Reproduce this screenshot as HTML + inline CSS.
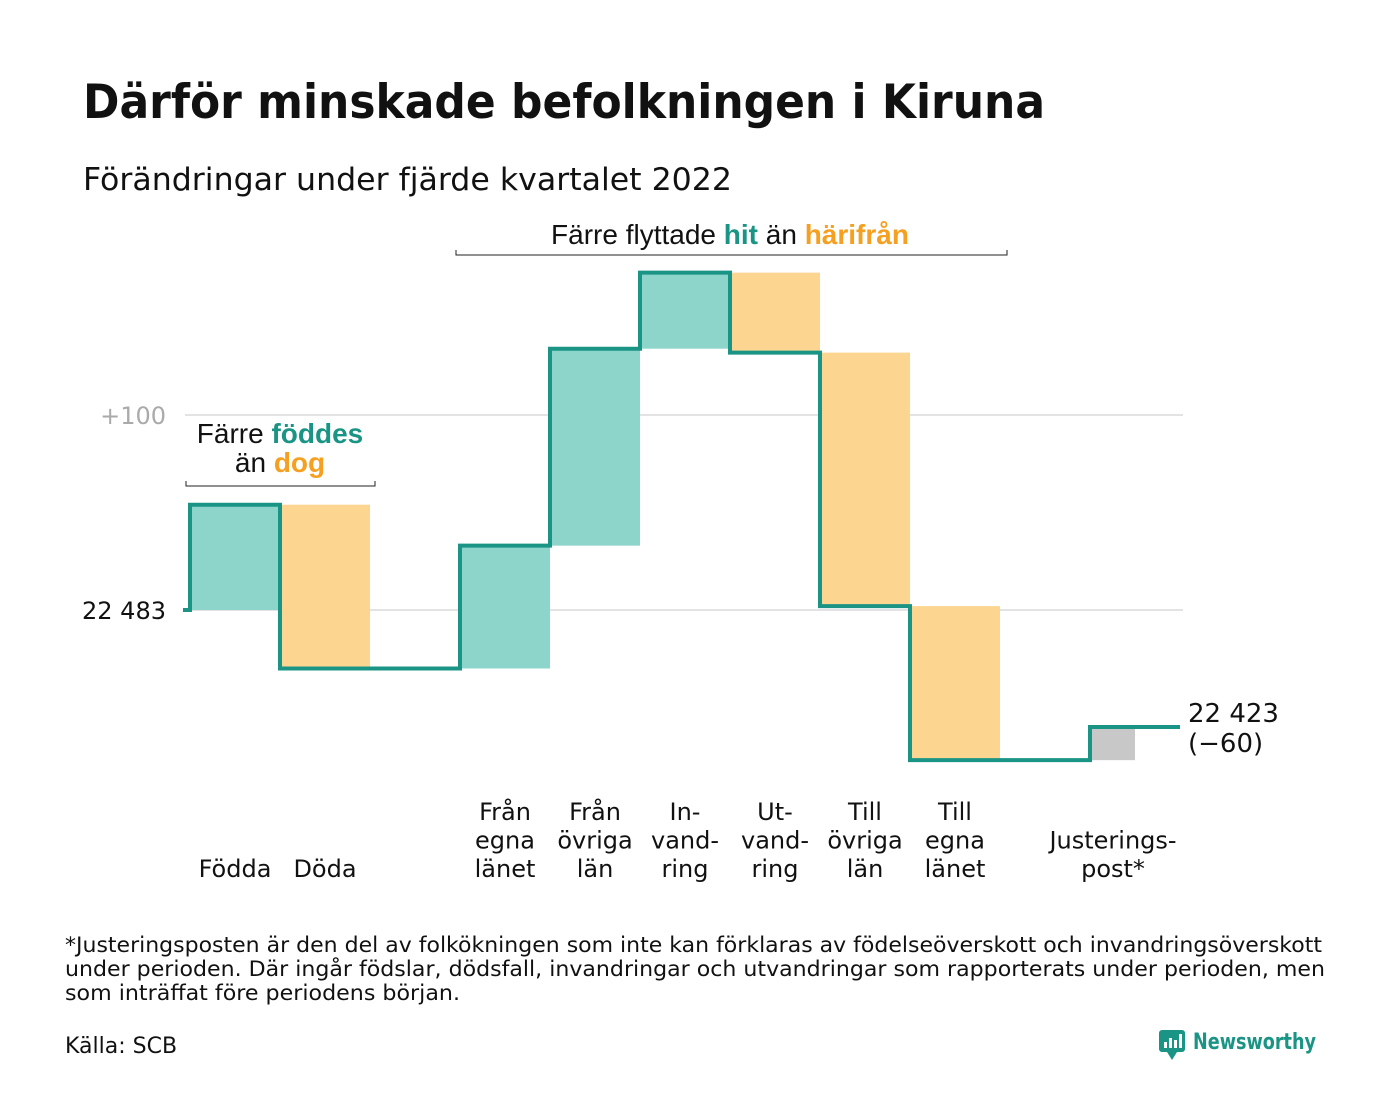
<!DOCTYPE html>
<html><head><meta charset="utf-8"><style>
html,body{margin:0;padding:0;background:#fff;width:1400px;height:1120px;overflow:hidden}
svg{display:block}
text{font-family:"DejaVu Sans","Liberation Sans",sans-serif}
</style></head><body>
<svg id="chart" width="1400" height="1120" viewBox="0 0 1400 1120">
<text x="83" y="118" font-size="47" font-weight="bold" fill="#111" textLength="962" lengthAdjust="spacingAndGlyphs">Därför minskade befolkningen i Kiruna</text>
<text x="83" y="190" font-size="31" fill="#111" textLength="649" lengthAdjust="spacingAndGlyphs">Förändringar under fjärde kvartalet 2022</text>
<g id="grid"></g>
<g id="bars"></g>
<g id="labels"></g>
<g>
<text x="730" y="244" text-anchor="middle" font-size="28" fill="#111" style="font-family:'Liberation Sans',sans-serif">Färre flyttade <tspan fill="#1a9484" font-weight="bold">hit</tspan> än <tspan fill="#f5a020" font-weight="bold">härifrån</tspan></text>
<path d="M456 250V255H1007V250" fill="none" stroke="#222" stroke-width="1"/>
</g>
<g>
<text x="280" y="443" text-anchor="middle" font-size="28" style="font-family:'Liberation Sans',sans-serif" fill="#111">Färre <tspan fill="#1a9484" font-weight="bold">föddes</tspan></text>
<text x="280" y="472" text-anchor="middle" font-size="28" style="font-family:'Liberation Sans',sans-serif" fill="#111">än <tspan fill="#f5a020" font-weight="bold">dog</tspan></text>
<path d="M186 481V486H375V481" fill="none" stroke="#222" stroke-width="1"/>
</g>
<text font-size="21" fill="#111">
<tspan x="65" y="952" textLength="1257" lengthAdjust="spacingAndGlyphs">*Justeringsposten är den del av folkökningen som inte kan förklaras av födelseöverskott och invandringsöverskott</tspan>
<tspan x="65" y="976" textLength="1260" lengthAdjust="spacingAndGlyphs">under perioden. Där ingår födslar, dödsfall, invandringar och utvandringar som rapporterats under perioden, men</tspan>
<tspan x="65" y="1000" textLength="395" lengthAdjust="spacingAndGlyphs">som inträffat före periodens början.</tspan></text>
<text x="65" y="1053" font-size="22" fill="#111">Källa: SCB</text>
<g>
<rect x="1159" y="1030" width="26" height="22" rx="3" fill="#1a9484"/>
<path d="M1167 1052L1172 1060L1177 1052Z" fill="#1a9484"/>
<rect x="1164" y="1042" width="3" height="6" fill="#fff"/><rect x="1169" y="1038" width="3" height="10" fill="#fff"/><rect x="1174" y="1040" width="3" height="8" fill="#fff"/><rect x="1179" y="1034" width="3" height="14" fill="#fff"/>
<text x="1193" y="1049" font-size="22" font-weight="bold" fill="#1a9484" textLength="123" lengthAdjust="spacingAndGlyphs">Newsworthy</text>
</g>
</svg>
<script>
const categories=[["Födda"],["Döda"],null,["Från","egna","länet"],["Från","övriga","län"],["In-","vand-","ring"],["Ut-","vand-","ring"],["Till","övriga","län"],["Till","egna","länet"],null,["Justerings-","post*"]];
const changes=[54,-84,0,63,101,39,-41,-130,-79,0,17];
const kinds=["in","out",null,"in","in","in","out","out","out",null,"adj"];
const baseValue=22483;
const tickValues=[0,100];
const tickLabels=["22 483","+100"];
const finalLabel=["22 423","(−60)"];
const NS="http://www.w3.org/2000/svg";
const x0=190,colW=90,y0=610,pxPerUnit=1.95;
function xs(i){return x0+i*colW;}
function ys(v){return y0-v*pxPerUnit;}
function mk(tag,attrs,parent){const e=document.createElementNS(NS,tag);for(const k in attrs)e.setAttribute(k,attrs[k]);parent.appendChild(e);return e;}
const grid=document.getElementById('grid'),bars=document.getElementById('bars'),labels=document.getElementById('labels');
tickValues.forEach((t,i)=>{
  const l=mk('line',{x1:185,x2:1183,y1:ys(t),y2:ys(t),stroke:'#e3e3e3','stroke-width':2},grid);
  
  
  const tx=mk('text',{x:166,y:ys(t)+9,'text-anchor':'end','font-size':24,fill:i===0?'#111':'#aaa'},grid);
  tx.textContent=tickLabels[i];
  
  
});
const fills={in:'#8dd5cb',out:'#fcd690',adj:'#c8c8c8'};
let cum=0;let path='M183 '+ys(0)+' H'+xs(0);
changes.forEach((c,i)=>{
  const a=cum,b=cum+c;
  const last=(i===changes.length-1);
  const w=last?43:colW;
  if(kinds[i]){
    const r=mk('rect',{x:xs(i)+(last?2:0),width:w,y:Math.min(ys(a),ys(b)),height:Math.abs(ys(a)-ys(b)),fill:fills[kinds[i]]},bars);
    
    
  }
  path+=' V'+ys(b)+' H'+xs(i+1);
  cum=b;
  const cat=categories[i];
  if(cat){
    const n=cat.length;
    const cx=last?1113:xs(i)+colW/2;
    cat.forEach((s,j)=>{
      const t=mk('text',{x:cx,y:877-(n-1-j)*28.5,'text-anchor':'middle','font-size':24,fill:'#111'},labels);
      t.textContent=s;
      
      
    });
  }
});
const p=mk('path',{d:path,fill:'none',stroke:'#1a9484','stroke-width':4},bars);


finalLabel.forEach((s,j)=>{
  const t=mk('text',{x:1188,y:ys(cum)-5+j*30,'font-size':26,fill:'#111'},labels);
  t.textContent=s;
  
  
});
</script>
</body></html>
